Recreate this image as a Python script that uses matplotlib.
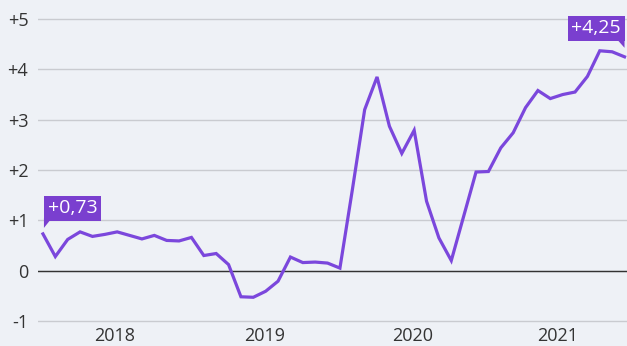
import matplotlib.pyplot as plt
import matplotlib.transforms as mtransforms
from matplotlib.patches import Polygon
import numpy as np

plt.rcParams['font.family'] = ['Open Sans', 'DejaVu Sans']

# monthly values, Jul 2017 .. Jun 2021
values = [0.73, 0.28, 0.62, 0.77, 0.68, 0.72, 0.77, 0.70, 0.63, 0.70,
          0.60, 0.59, 0.66, 0.30, 0.34, 0.12, -0.52, -0.53, -0.41, -0.21,
          0.27, 0.16, 0.17, 0.15, 0.05, 1.60, 3.20, 3.85, 2.87, 2.33,
          2.79, 1.38, 0.65, 0.20, 1.08, 1.96, 1.97, 2.44, 2.74, 3.24,
          3.58, 3.42, 3.50, 3.55, 3.86, 4.37, 4.35, 4.25]
year_pos = [5.8, 17.9, 29.9, 41.6]
year_labels = ["2018", "2019", "2020", "2021"]
y_ticks = [-1, 0, 1, 2, 3, 4, 5]
y_labels = ["-1", "0", "+1", "+2", "+3", "+4", "+5"]
first_label = "+0,73"
last_label = "+4,25"

BG = "#eef1f6"
PURPLE = "#7b47dc"
BOX = "#7a3fcf"

x = np.arange(len(values))

fig = plt.figure(figsize=(6.27, 3.46), dpi=100, facecolor=BG)
ax = fig.add_axes([0.0606, 0.0434, 0.9394, 0.9523], facecolor=BG)

ax.plot(x, values, color=PURPLE, linewidth=2.3, solid_joinstyle="miter", zorder=3)
ax.axhline(0, color="#333333", linewidth=1.0, zorder=2)

ax.set_xlim(-0.4, 47.2)
ax.set_ylim(-1.2, 5.35)
ax.set_yticks(y_ticks)
ax.set_yticklabels(y_labels)
ax.set_xticks(year_pos)
ax.set_xticklabels(year_labels)
ax.yaxis.grid(True, color="#c9cbd0", linewidth=1.0, zorder=1)
ax.tick_params(axis="y", length=0, pad=7, labelsize=13, labelcolor="#333333")
ax.tick_params(axis="x", length=0, pad=-3, labelsize=13, labelcolor="#333333")
for s in ax.spines.values():
    s.set_visible(False)

# value callouts
ax.annotate(first_label, xy=(x[0], values[0]), xytext=(3.6, 12), textcoords="offset points",
            ha="left", va="bottom", color="white", fontsize=14,
            bbox=dict(boxstyle="square,pad=0.18", fc=BOX, ec="none"), zorder=5)
ax.annotate(last_label, xy=(x[-1], values[-1]), xytext=(-2.5, 14), textcoords="offset points",
            ha="right", va="bottom", color="white", fontsize=14,
            bbox=dict(boxstyle="square,pad=0.18", fc=BOX, ec="none"), zorder=5)

# small tails under the callouts
p1 = ax.transData.transform((x[0], values[0]))
p2 = ax.transData.transform((x[-1], values[-1]))
tail1 = Polygon([[1, 16], [9, 16], [1, 6]], closed=True, fc=BOX, ec="none",
                transform=mtransforms.Affine2D().translate(*p1))
tail2 = Polygon([[0, 18], [-8, 18], [0, 9]], closed=True, fc=BOX, ec="none",
                transform=mtransforms.Affine2D().translate(*p2))
for t in (tail1, tail2):
    t.set_figure(fig)
    fig.patches.append(t)

fig.savefig("out.png", dpi=100, facecolor=BG)
